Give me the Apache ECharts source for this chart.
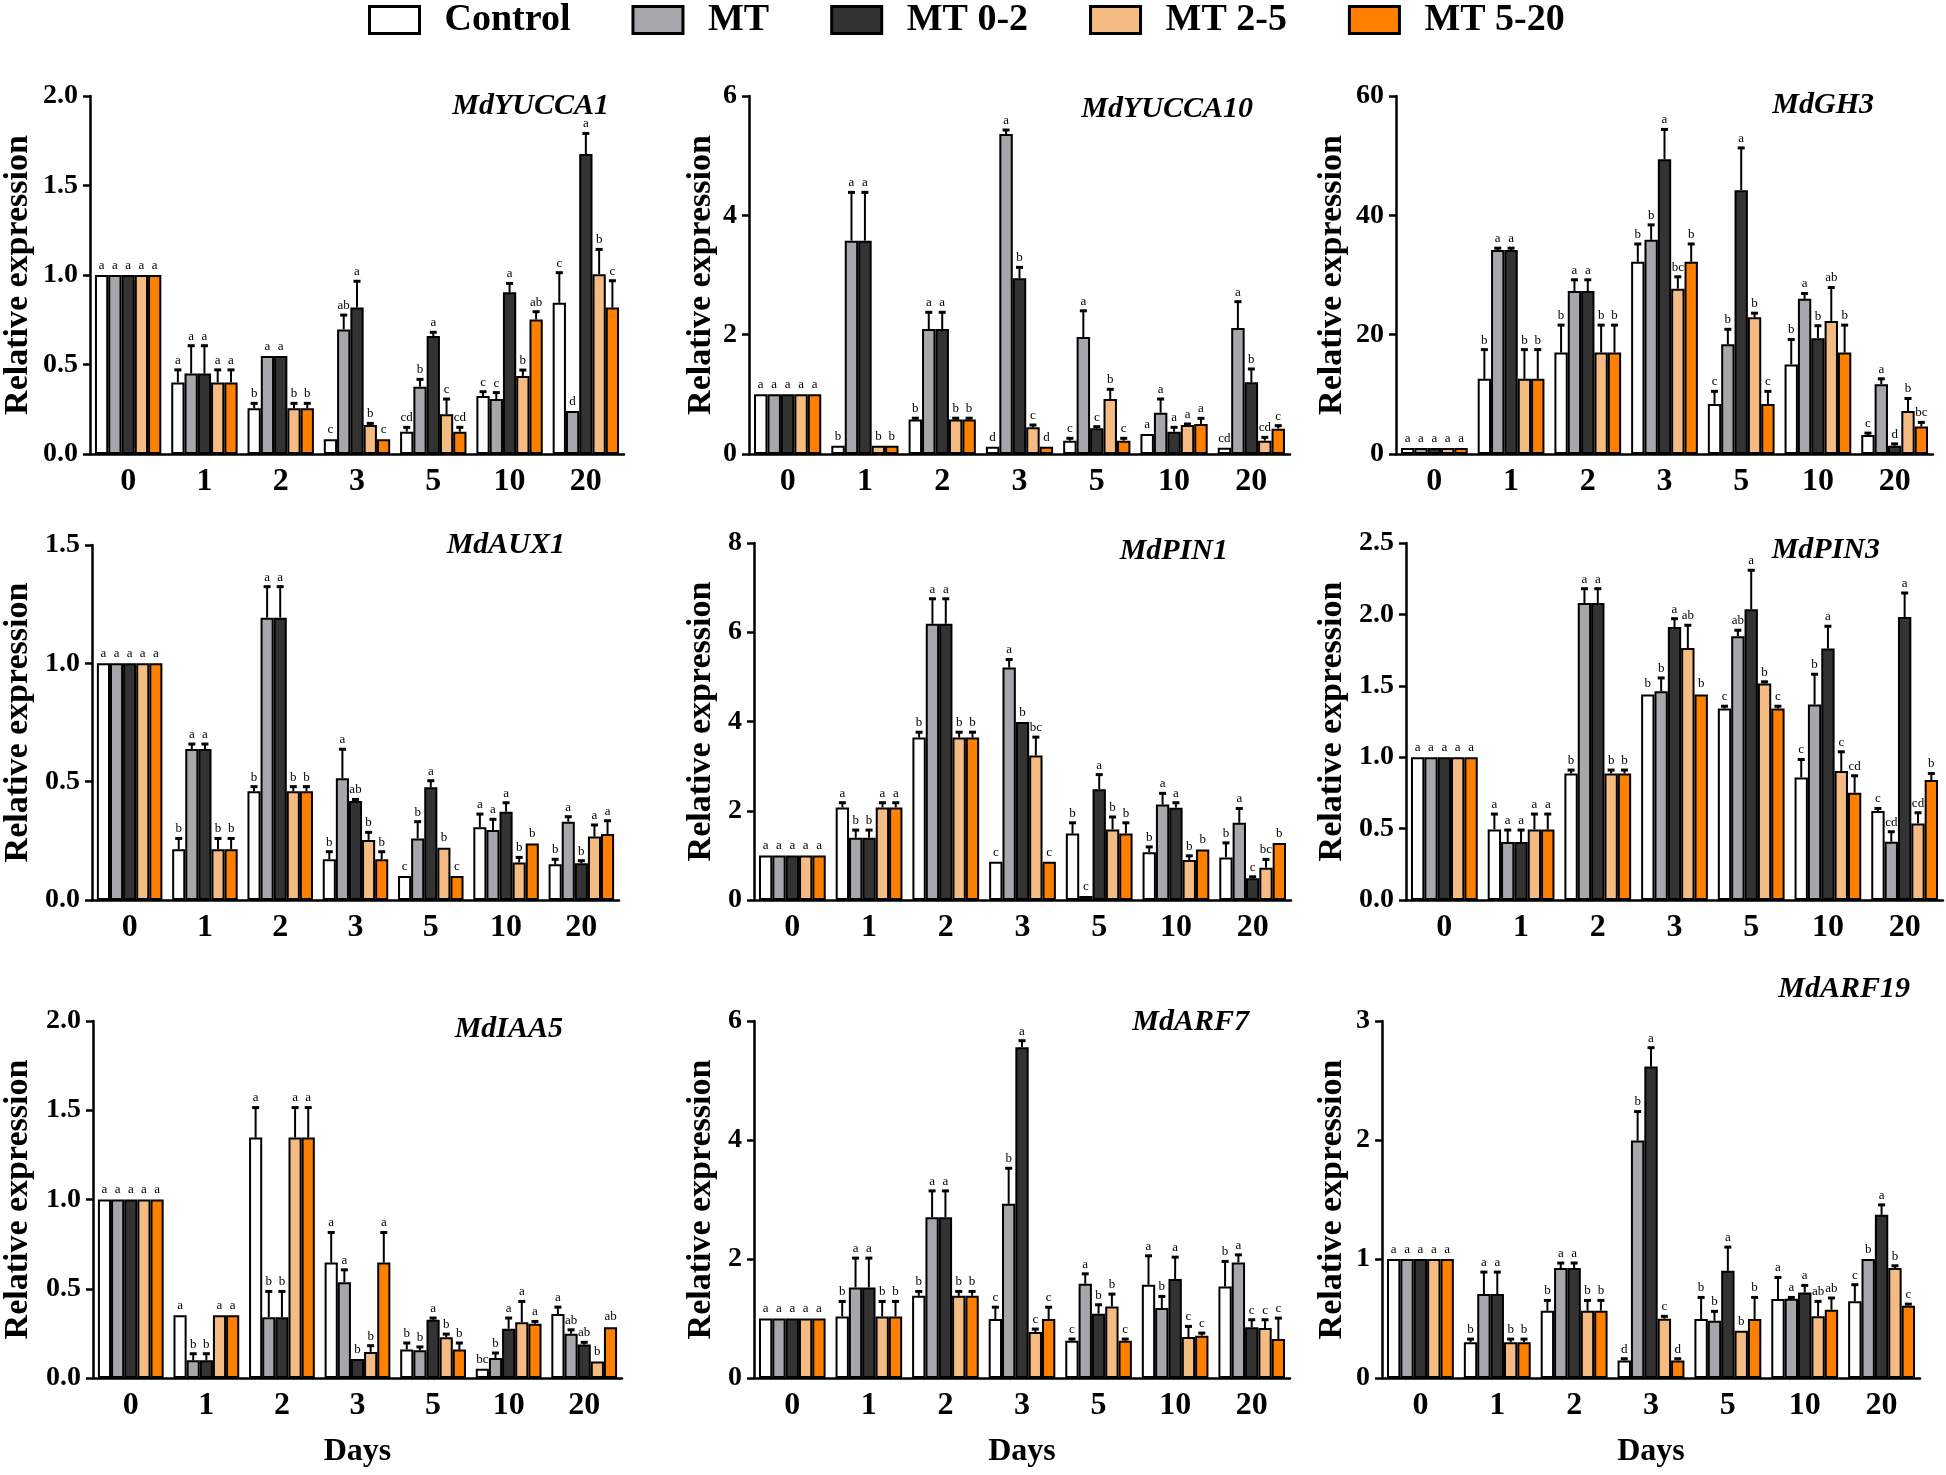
<!DOCTYPE html>
<html>
<head>
<meta charset="utf-8">
<title>Relative expression of auxin-related genes</title>
<script src="https://cdn.jsdelivr.net/npm/echarts@6/dist/echarts.min.js"></script>
<style>
  html, body { margin: 0; padding: 0; background: #fff; }
  #chart { width: 1946px; height: 1475px; }
</style>
</head>
<body>
<div id="chart"></div>
<script>
const days = ['0', '1', '2', '3', '5', '10', '20'];
const treatments = ['Control', 'MT', 'MT 0-2', 'MT 2-5', 'MT 5-20'];
const colors = ['#ffffff', '#a6a6ab', '#333333', '#f4bc82', '#ff8000'];

// rows = days, columns = treatments (mean, SD, significance letters)
const yucca1Mean = [[1, 1, 1, 1, 1], [0.40, 0.45, 0.45, 0.40, 0.40], [0.255, 0.547, 0.547, 0.255, 0.255], [0.082, 0.696, 0.818, 0.162, 0.082], [0.125, 0.376, 0.659, 0.222, 0.125], [0.324, 0.307, 0.903, 0.436, 0.752], [0.845, 0.24, 1.676, 1.004, 0.818]];
const yucca1Sd = [[0, 0, 0, 0, 0], [0.07, 0.155, 0.155, 0.07, 0.07], [0.028, 0, 0, 0.028, 0.028], [0, 0.08, 0.147, 0.009, 0], [0.024, 0.041, 0.021, 0.085, 0.024], [0.024, 0.036, 0.05, 0.033, 0.043], [0.168, 0, 0.115, 0.139, 0.15]];
const yucca1Sig = ['a a a a a', 'a a a a a', 'b a a b b', 'c ab a b c', 'cd b a c cd', 'c c a b ab', 'c d a b c'];

const yucca10Mean = [[1, 1, 1, 1, 1], [0.14, 3.575, 3.575, 0.14, 0.14], [0.58, 2.095, 2.095, 0.58, 0.58], [0.123, 5.363, 2.944, 0.447, 0.123], [0.223, 1.96, 0.43, 0.922, 0.223], [0.335, 0.693, 0.374, 0.486, 0.503], [0.106, 2.112, 1.201, 0.223, 0.425]];
const yucca10Sd = [[0, 0, 0, 0, 0], [0, 0.81, 0.81, 0, 0], [0.02, 0.28, 0.28, 0.02, 0.02], [0, 0.067, 0.184, 0.039, 0], [0.04, 0.44, 0.028, 0.162, 0.04], [0, 0.229, 0.073, 0.017, 0.095], [0, 0.441, 0.224, 0.056, 0.05]];
const yucca10Sig = ['a a a a a', 'b a a b b', 'b a a b b', 'd a b c d', 'c a c b c', 'a a a a a', 'cd a b cd c'];

const gh3Mean = [[1, 1, 1, 1, 1], [12.6, 34.2, 34.2, 12.6, 12.6], [17.0, 27.3, 27.3, 17.0, 17.0], [32.2, 35.9, 49.4, 27.7, 32.2], [8.4, 18.4, 44.2, 22.9, 8.4], [15.0, 26.0, 19.4, 22.3, 17.0], [3.2, 11.7, 1.4, 7.2, 4.6]];
const gh3Sd = [[0, 0, 0, 0, 0], [4.9, 0.3, 0.3, 4.9, 4.9], [4.6, 1.9, 1.9, 4.6, 4.6], [3.0, 2.5, 5.0, 2.0, 3.0], [2.1, 2.5, 7.1, 0.7, 2.1], [4.2, 0.9, 2.1, 5.6, 4.6], [0.3, 0.9, 0.3, 2.1, 0.7]];
const gh3Sig = ['a a a a a', 'b a a b b', 'b a a b b', 'b b a bc b', 'c b a b c', 'b a b ab b', 'c a d b bc'];

const aux1Mean = [[1, 1, 1, 1, 1], [0.214, 0.638, 0.638, 0.214, 0.214], [0.46, 1.193, 1.193, 0.46, 0.46], [0.172, 0.514, 0.418, 0.254, 0.172], [0.101, 0.26, 0.476, 0.221, 0.101], [0.307, 0.296, 0.373, 0.158, 0.239], [0.151, 0.331, 0.155, 0.268, 0.279]];
const aux1Sd = [[0, 0, 0, 0, 0], [0.046, 0.021, 0.021, 0.046, 0.046], [0.019, 0.131, 0.131, 0.019, 0.019], [0.032, 0.123, 0.007, 0.032, 0.032], [0, 0.071, 0.028, 0.002, 0], [0.056, 0.045, 0.038, 0.022, 0.003], [0.021, 0.021, 0.011, 0.049, 0.056]];
const aux1Sig = ['a a a a a', 'b a a b b', 'b a a b b', 'b a ab b b', 'c b a b c', 'a a a b b', 'b a b a a'];

const pin1Mean = [[1, 1, 1, 1, 1], [2.075, 1.396, 1.396, 2.075, 2.075], [3.64, 6.19, 6.19, 3.64, 3.64], [0.858, 5.21, 3.99, 3.24, 0.858], [1.49, 0.09, 2.48, 1.58, 1.49], [1.07, 2.14, 2.07, 0.896, 1.13], [0.955, 1.73, 0.485, 0.724, 1.28]];
const pin1Sd = [[0, 0, 0, 0, 0], [0.105, 0.171, 0.171, 0.105, 0.105], [0.12, 0.56, 0.56, 0.12, 0.12], [0, 0.18, 0, 0.41, 0], [0.24, 0, 0.33, 0.28, 0.24], [0.12, 0.25, 0.11, 0.094, 0.02], [0.325, 0.32, 0.035, 0.186, 0]];
const pin1Sig = ['a a a a a', 'a b b a a', 'b a a b b', 'c a b bc c', 'b c a b b', 'b a a b b', 'b a c bc b'];

const pin3Mean = [[1, 1, 1, 1, 1], [0.494, 0.406, 0.406, 0.494, 0.494], [0.886, 2.08, 2.08, 0.886, 0.886], [1.439, 1.462, 1.912, 1.765, 1.439], [1.341, 1.847, 2.036, 1.516, 1.341], [0.858, 1.369, 1.761, 0.903, 0.751], [0.623, 0.408, 1.982, 0.536, 0.84]];
const pin3Sd = [[0, 0, 0, 0, 0], [0.108, 0.084, 0.084, 0.108, 0.108], [0.024, 0.1, 0.1, 0.024, 0.024], [0.007, 0.093, 0.058, 0.159, 0.007], [0.016, 0.042, 0.273, 0.012, 0.016], [0.126, 0.212, 0.156, 0.135, 0.119], [0.018, 0.07, 0.168, 0.075, 0.046]];
const pin3Sig = ['a a a a a', 'a a a a a', 'b a a b b', 'b b a ab b', 'c ab a b c', 'c b a c cd', 'c cd a cd b'];

const iaa5Mean = [[1, 1, 1, 1, 1], [0.351, 0.099, 0.099, 0.351, 0.351], [1.347, 0.341, 0.341, 1.347, 1.347], [0.647, 0.537, 0.106, 0.146, 0.647], [0.159, 0.155, 0.326, 0.228, 0.159], [0.052, 0.112, 0.276, 0.312, 0.304], [0.358, 0.248, 0.187, 0.093, 0.284]];
const iaa5Sd = [[0, 0, 0, 0, 0], [0.003, 0.037, 0.037, 0.003, 0.003], [0.168, 0.144, 0.144, 0.168, 0.168], [0.168, 0.069, 0, 0.035, 0.168], [0.037, 0.019, 0.01, 0.018, 0.037], [0, 0.028, 0.06, 0.117, 0.013], [0.039, 0.022, 0.013, 0, 0.005]];
const iaa5Sig = ['a a a a a', 'a b b a a', 'a b b a a', 'a a b b a', 'b b a b b', 'bc b a a a', 'a ab ab b ab'];

const arf7Mean = [[1, 1, 1, 1, 1], [1.035, 1.522, 1.522, 1.035, 1.035], [1.382, 2.703, 2.703, 1.382, 1.382], [0.99, 2.927, 5.557, 0.772, 0.99], [0.627, 1.584, 1.08, 1.203, 0.627], [1.567, 1.175, 1.662, 0.688, 0.711], [1.539, 1.942, 0.851, 0.839, 0.655]];
const arf7Sd = [[0, 0, 0, 0, 0], [0.252, 0.493, 0.493, 0.252, 0.252], [0.073, 0.442, 0.442, 0.073, 0.073], [0.2, 0.598, 0.112, 0.051, 0.2], [0.028, 0.167, 0.151, 0.207, 0.028], [0.487, 0.196, 0.369, 0.179, 0.044], [0.42, 0.128, 0.128, 0.14, 0.352]];
const arf7Sig = ['a a a a a', 'b a a b b', 'b a a b b', 'c b a c c', 'c a b b c', 'a b a c c', 'b a c c c'];

const arf19Mean = [[1, 1, 1, 1, 1], [0.3, 0.705, 0.705, 0.3, 0.3], [0.565, 0.924, 0.924, 0.565, 0.565], [0.148, 1.996, 2.617, 0.498, 0.148], [0.495, 0.481, 0.901, 0.397, 0.495], [0.663, 0.666, 0.719, 0.518, 0.574], [0.644, 0.999, 1.371, 0.924, 0.607]];
const arf19Sd = [[0, 0, 0, 0, 0], [0.027, 0.185, 0.185, 0.027, 0.027], [0.087, 0.042, 0.042, 0.087, 0.087], [0.014, 0.243, 0.159, 0.02, 0.014], [0.182, 0.079, 0.199, 0, 0.182], [0.182, 0.011, 0.059, 0.126, 0.098], [0.14, 0, 0.084, 0.019, 0.014]];
const arf19Sig = ['a a a a a', 'b a a b b', 'b a a b b', 'd b a c d', 'b b a b b', 'a a a ab ab', 'c b a b c'];

const genes = [
    {name: 'MdYUCCA1', mean: yucca1Mean, sd: yucca1Sd, sig: yucca1Sig, max: 2, step: 0.5, dec: 1},
    {name: 'MdYUCCA10', mean: yucca10Mean, sd: yucca10Sd, sig: yucca10Sig, max: 6, step: 2, dec: 0},
    {name: 'MdGH3', mean: gh3Mean, sd: gh3Sd, sig: gh3Sig, max: 60, step: 20, dec: 0},
    {name: 'MdAUX1', mean: aux1Mean, sd: aux1Sd, sig: aux1Sig, max: 1.5, step: 0.5, dec: 1},
    {name: 'MdPIN1', mean: pin1Mean, sd: pin1Sd, sig: pin1Sig, max: 8, step: 2, dec: 0},
    {name: 'MdPIN3', mean: pin3Mean, sd: pin3Sd, sig: pin3Sig, max: 2.5, step: 0.5, dec: 1},
    {name: 'MdIAA5', mean: iaa5Mean, sd: iaa5Sd, sig: iaa5Sig, max: 2, step: 0.5, dec: 1},
    {name: 'MdARF7', mean: arf7Mean, sd: arf7Sd, sig: arf7Sig, max: 6, step: 2, dec: 0},
    {name: 'MdARF19', mean: arf19Mean, sd: arf19Sd, sig: arf19Sig, max: 3, step: 1, dec: 0}
];

// panel layout: plot box [left, top, right, bottom], y-name gap, gene title [right x, center y]
const boxes = [
    [86, 96, 624, 454, 55, 609, 107],
    [749, 96, 1290, 454, 31, 1253, 110],
    [1396, 96, 1933, 454, 47, 1874, 106],
    [84, 545, 619, 900, 57, 565, 546],
    [754, 543, 1291, 900, 36, 1228, 552],
    [1406, 543, 1943, 900, 57, 1880, 551],
    [86, 1021, 622, 1378, 58, 563, 1030],
    [754, 1021, 1290, 1378, 36, 1249, 1023],
    [1382, 1021, 1920, 1378, 33, 1910, 990]
];

const serif = 'Liberation Serif';
const gapPct = 0.13;
let grid = [], xAxis = [], yAxis = [], series = [], title = [];

genes.forEach(function (g, i) {
    let b = boxes[i];
    grid.push({left: b[0], top: b[1], width: b[2] - b[0], height: b[3] - b[1]});
    title.push({
        text: g.name, right: 1946 - b[5], top: b[6] - 16, padding: 0,
        textStyle: {fontFamily: serif, fontStyle: 'italic', fontWeight: 'bold', fontSize: 30, color: '#000'}
    });
    xAxis.push({
        type: 'category', gridIndex: i, data: days,
        name: i >= 6 ? 'Days' : '', nameLocation: 'middle', nameGap: 58,
        nameTextStyle: {fontFamily: serif, fontWeight: 'bold', fontSize: 32, color: '#000'},
        axisLine: {lineStyle: {color: '#000', width: 2.5}},
        axisTick: {alignWithLabel: true, length: 8, lineStyle: {color: '#000', width: 2.5}},
        axisLabel: {fontFamily: serif, fontWeight: 'bold', fontSize: 32, color: '#000', margin: 12}
    });
    yAxis.push({
        type: 'value', gridIndex: i, min: 0, max: g.max, interval: g.step,
        name: 'Relative expression', nameLocation: 'middle', nameGap: b[4],
        nameTextStyle: {fontFamily: serif, fontWeight: 'bold', fontSize: 34, color: '#000'},
        axisLine: {show: true, lineStyle: {color: '#000', width: 2.5}},
        axisTick: {show: true, length: 7, lineStyle: {color: '#000', width: 2.5}},
        splitLine: {show: false},
        axisLabel: {
            fontFamily: serif, fontWeight: 'bold', fontSize: 28, color: '#000', margin: 12,
            formatter: function (v) { return v.toFixed(g.dec); }
        }
    });
    treatments.forEach(function (t, s) {
        series.push({
            type: 'bar', name: t, xAxisIndex: i, yAxisIndex: i,
            barGap: '0%', barCategoryGap: (gapPct * 100) + '%',
            itemStyle: {color: colors[s], borderColor: '#000', borderWidth: 2},
            data: g.mean.map(function (row) { return row[s]; })
        });
    });
    // error bars and significance letters
    let pts = [], letters = [];
    g.mean.forEach(function (row, d) {
        let sig = g.sig[d].split(' ');
        row.forEach(function (v, s) {
            pts.push([d, v + g.sd[d][s], s, v]);
            letters.push(sig[s]);
        });
    });
    series.push({
        type: 'custom', xAxisIndex: i, yAxisIndex: i, z: 5, silent: true,
        data: pts,
        renderItem: function (params, api) {
            let d = api.value(0), top = api.value(1), s = api.value(2), v = api.value(3);
            let band = api.size([1, 0])[0];
            let gw = band * (1 - gapPct), bw = gw / 5;
            let cx = api.coord([d, 0])[0] - gw / 2 + bw * (s + 0.5);
            let yTop = api.coord([d, top])[1], yVal = api.coord([d, v])[1];
            let kids = [];
            if (yVal - yTop > 1) {
                kids.push({type: 'line', shape: {x1: cx, y1: yVal, x2: cx, y2: yTop}, style: {stroke: '#000', lineWidth: 2}});
                kids.push({type: 'line', shape: {x1: cx - 3.5, y1: yTop, x2: cx + 3.5, y2: yTop}, style: {stroke: '#000', lineWidth: 3}});
            }
            kids.push({
                type: 'text', x: cx, y: yTop - 3,
                style: {text: letters[params.dataIndex], align: 'center', verticalAlign: 'bottom', fontFamily: serif, fontSize: 13, fill: '#000'}
            });
            return {type: 'group', children: kids};
        }
    });
});

let chart = echarts.init(document.getElementById('chart'));
chart.setOption({
    animation: false,
    backgroundColor: '#fff',
    title: title,
    legend: {
        data: treatments, left: 363, top: -4, icon: 'rect',
        itemWidth: 50, itemHeight: 27, itemGap: 61,
        itemStyle: {borderColor: '#000', borderWidth: 3},
        textStyle: {fontFamily: serif, fontWeight: 'bold', fontSize: 38, color: '#000', padding: [0, 0, 0, 20]}
    },
    grid: grid,
    xAxis: xAxis,
    yAxis: yAxis,
    series: series
});
</script>
</body>
</html>
